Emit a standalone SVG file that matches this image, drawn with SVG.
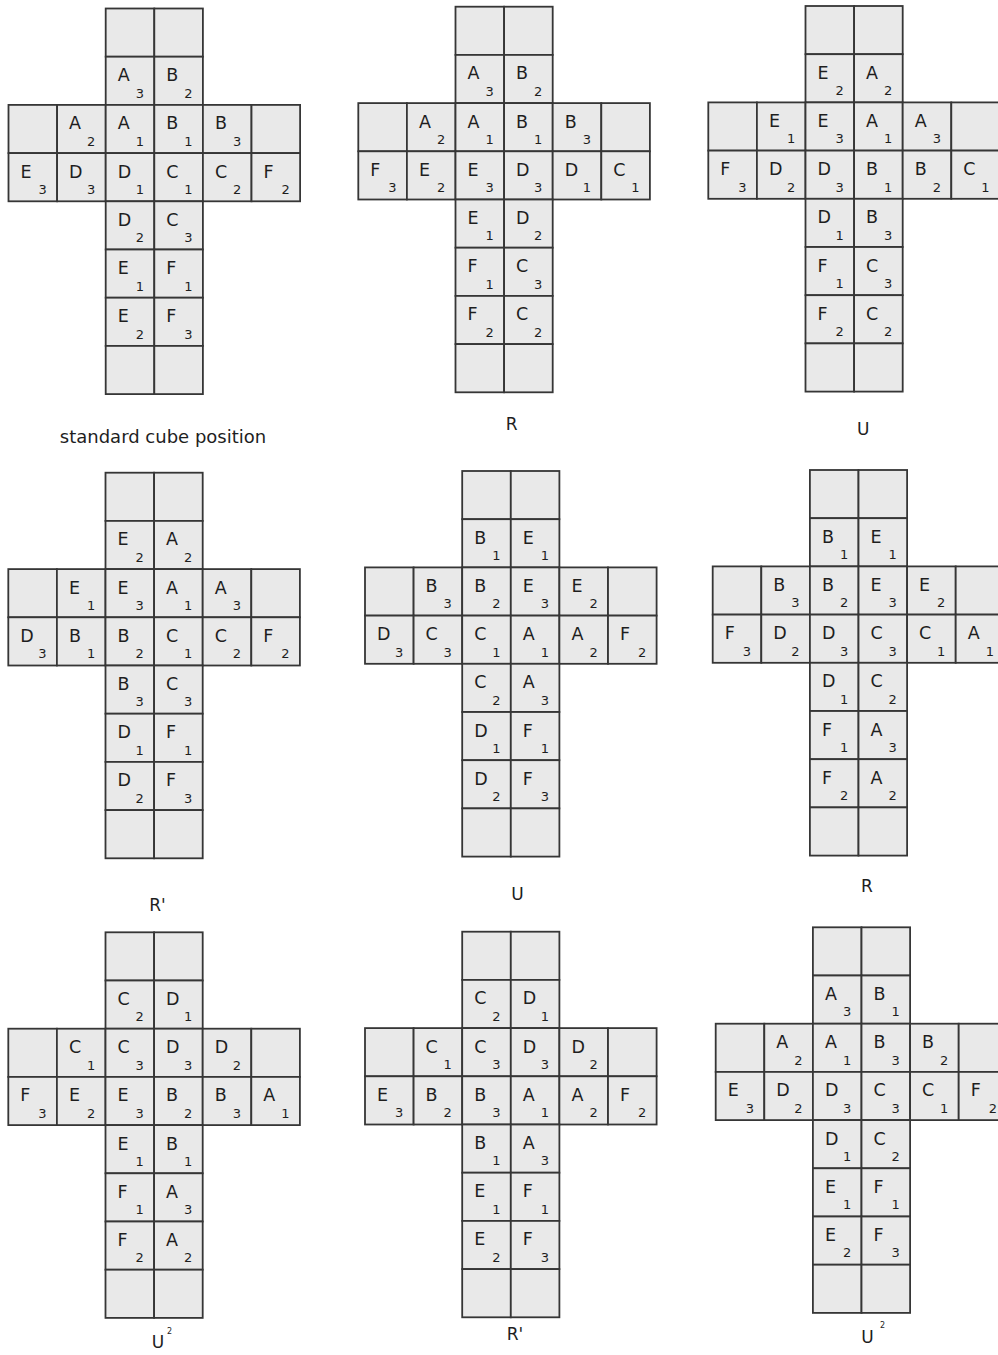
<svg xmlns="http://www.w3.org/2000/svg" xmlns:xlink="http://www.w3.org/1999/xlink" width="998" height="1355" viewBox="0 0 998 1355">
<style>
.c{fill:#e9e9e9;stroke:#363636;stroke-width:1.8}
text{font-family:"DejaVu Sans","Liberation Sans",sans-serif;fill:#1e1e1e}
.n text{font-size:17.5px}
.n .s{font-size:13px}
.cap{font-size:17px;text-anchor:middle}
.sup{font-size:8px}
</style>
<defs>
<g id="grid">
<rect class="c" x="97.2" y="0" width="48.6" height="48.2"/><rect class="c" x="145.8" y="0" width="48.6" height="48.2"/>
<rect class="c" x="97.2" y="48.2" width="48.6" height="48.2"/><rect class="c" x="145.8" y="48.2" width="48.6" height="48.2"/>
<rect class="c" x="0" y="96.4" width="48.6" height="48.2"/><rect class="c" x="48.6" y="96.4" width="48.6" height="48.2"/><rect class="c" x="97.2" y="96.4" width="48.6" height="48.2"/><rect class="c" x="145.8" y="96.4" width="48.6" height="48.2"/><rect class="c" x="194.4" y="96.4" width="48.6" height="48.2"/><rect class="c" x="243" y="96.4" width="48.6" height="48.2"/>
<rect class="c" x="0" y="144.6" width="48.6" height="48.2"/><rect class="c" x="48.6" y="144.6" width="48.6" height="48.2"/><rect class="c" x="97.2" y="144.6" width="48.6" height="48.2"/><rect class="c" x="145.8" y="144.6" width="48.6" height="48.2"/><rect class="c" x="194.4" y="144.6" width="48.6" height="48.2"/><rect class="c" x="243" y="144.6" width="48.6" height="48.2"/>
<rect class="c" x="97.2" y="192.8" width="48.6" height="48.2"/><rect class="c" x="145.8" y="192.8" width="48.6" height="48.2"/>
<rect class="c" x="97.2" y="241" width="48.6" height="48.2"/><rect class="c" x="145.8" y="241" width="48.6" height="48.2"/>
<rect class="c" x="97.2" y="289.2" width="48.6" height="48.2"/><rect class="c" x="145.8" y="289.2" width="48.6" height="48.2"/>
<rect class="c" x="97.2" y="337.4" width="48.6" height="48.2"/><rect class="c" x="145.8" y="337.4" width="48.6" height="48.2"/>
</g>
</defs>

<g id="net1" class="n" transform="translate(8.5,8.5)">
<use href="#grid"/>
<text x="109.2" y="72.7">A<tspan class="s" x="127.2" dy="16.5">3</tspan></text>
<text x="157.8" y="72.7">B<tspan class="s" x="175.8" dy="16.5">2</tspan></text>
<text x="60.6" y="120.9">A<tspan class="s" x="78.6" dy="16.5">2</tspan></text>
<text x="109.2" y="120.9">A<tspan class="s" x="127.2" dy="16.5">1</tspan></text>
<text x="157.8" y="120.9">B<tspan class="s" x="175.8" dy="16.5">1</tspan></text>
<text x="206.4" y="120.9">B<tspan class="s" x="224.4" dy="16.5">3</tspan></text>
<text x="12" y="169.1">E<tspan class="s" x="30" dy="16.5">3</tspan></text>
<text x="60.6" y="169.1">D<tspan class="s" x="78.6" dy="16.5">3</tspan></text>
<text x="109.2" y="169.1">D<tspan class="s" x="127.2" dy="16.5">1</tspan></text>
<text x="157.8" y="169.1">C<tspan class="s" x="175.8" dy="16.5">1</tspan></text>
<text x="206.4" y="169.1">C<tspan class="s" x="224.4" dy="16.5">2</tspan></text>
<text x="255" y="169.1">F<tspan class="s" x="273" dy="16.5">2</tspan></text>
<text x="109.2" y="217.3">D<tspan class="s" x="127.2" dy="16.5">2</tspan></text>
<text x="157.8" y="217.3">C<tspan class="s" x="175.8" dy="16.5">3</tspan></text>
<text x="109.2" y="265.5">E<tspan class="s" x="127.2" dy="16.5">1</tspan></text>
<text x="157.8" y="265.5">F<tspan class="s" x="175.8" dy="16.5">1</tspan></text>
<text x="109.2" y="313.7">E<tspan class="s" x="127.2" dy="16.5">2</tspan></text>
<text x="157.8" y="313.7">F<tspan class="s" x="175.8" dy="16.5">3</tspan></text>
</g>

<g id="net2" class="n" transform="translate(358.3,6.7)">
<use href="#grid"/>
<text x="109.2" y="72.7">A<tspan class="s" x="127.2" dy="16.5">3</tspan></text>
<text x="157.8" y="72.7">B<tspan class="s" x="175.8" dy="16.5">2</tspan></text>
<text x="60.6" y="120.9">A<tspan class="s" x="78.6" dy="16.5">2</tspan></text>
<text x="109.2" y="120.9">A<tspan class="s" x="127.2" dy="16.5">1</tspan></text>
<text x="157.8" y="120.9">B<tspan class="s" x="175.8" dy="16.5">1</tspan></text>
<text x="206.4" y="120.9">B<tspan class="s" x="224.4" dy="16.5">3</tspan></text>
<text x="12" y="169.1">F<tspan class="s" x="30" dy="16.5">3</tspan></text>
<text x="60.6" y="169.1">E<tspan class="s" x="78.6" dy="16.5">2</tspan></text>
<text x="109.2" y="169.1">E<tspan class="s" x="127.2" dy="16.5">3</tspan></text>
<text x="157.8" y="169.1">D<tspan class="s" x="175.8" dy="16.5">3</tspan></text>
<text x="206.4" y="169.1">D<tspan class="s" x="224.4" dy="16.5">1</tspan></text>
<text x="255" y="169.1">C<tspan class="s" x="273" dy="16.5">1</tspan></text>
<text x="109.2" y="217.3">E<tspan class="s" x="127.2" dy="16.5">1</tspan></text>
<text x="157.8" y="217.3">D<tspan class="s" x="175.8" dy="16.5">2</tspan></text>
<text x="109.2" y="265.5">F<tspan class="s" x="127.2" dy="16.5">1</tspan></text>
<text x="157.8" y="265.5">C<tspan class="s" x="175.8" dy="16.5">3</tspan></text>
<text x="109.2" y="313.7">F<tspan class="s" x="127.2" dy="16.5">2</tspan></text>
<text x="157.8" y="313.7">C<tspan class="s" x="175.8" dy="16.5">2</tspan></text>
</g>

<g id="net3" class="n" transform="translate(708.3,6)">
<use href="#grid"/>
<text x="109.2" y="72.7">E<tspan class="s" x="127.2" dy="16.5">2</tspan></text>
<text x="157.8" y="72.7">A<tspan class="s" x="175.8" dy="16.5">2</tspan></text>
<text x="60.6" y="120.9">E<tspan class="s" x="78.6" dy="16.5">1</tspan></text>
<text x="109.2" y="120.9">E<tspan class="s" x="127.2" dy="16.5">3</tspan></text>
<text x="157.8" y="120.9">A<tspan class="s" x="175.8" dy="16.5">1</tspan></text>
<text x="206.4" y="120.9">A<tspan class="s" x="224.4" dy="16.5">3</tspan></text>
<text x="12" y="169.1">F<tspan class="s" x="30" dy="16.5">3</tspan></text>
<text x="60.6" y="169.1">D<tspan class="s" x="78.6" dy="16.5">2</tspan></text>
<text x="109.2" y="169.1">D<tspan class="s" x="127.2" dy="16.5">3</tspan></text>
<text x="157.8" y="169.1">B<tspan class="s" x="175.8" dy="16.5">1</tspan></text>
<text x="206.4" y="169.1">B<tspan class="s" x="224.4" dy="16.5">2</tspan></text>
<text x="255" y="169.1">C<tspan class="s" x="273" dy="16.5">1</tspan></text>
<text x="109.2" y="217.3">D<tspan class="s" x="127.2" dy="16.5">1</tspan></text>
<text x="157.8" y="217.3">B<tspan class="s" x="175.8" dy="16.5">3</tspan></text>
<text x="109.2" y="265.5">F<tspan class="s" x="127.2" dy="16.5">1</tspan></text>
<text x="157.8" y="265.5">C<tspan class="s" x="175.8" dy="16.5">3</tspan></text>
<text x="109.2" y="313.7">F<tspan class="s" x="127.2" dy="16.5">2</tspan></text>
<text x="157.8" y="313.7">C<tspan class="s" x="175.8" dy="16.5">2</tspan></text>
</g>

<g id="net4" class="n" transform="translate(8.3,472.7)">
<use href="#grid"/>
<text x="109.2" y="72.7">E<tspan class="s" x="127.2" dy="16.5">2</tspan></text>
<text x="157.8" y="72.7">A<tspan class="s" x="175.8" dy="16.5">2</tspan></text>
<text x="60.6" y="120.9">E<tspan class="s" x="78.6" dy="16.5">1</tspan></text>
<text x="109.2" y="120.9">E<tspan class="s" x="127.2" dy="16.5">3</tspan></text>
<text x="157.8" y="120.9">A<tspan class="s" x="175.8" dy="16.5">1</tspan></text>
<text x="206.4" y="120.9">A<tspan class="s" x="224.4" dy="16.5">3</tspan></text>
<text x="12" y="169.1">D<tspan class="s" x="30" dy="16.5">3</tspan></text>
<text x="60.6" y="169.1">B<tspan class="s" x="78.6" dy="16.5">1</tspan></text>
<text x="109.2" y="169.1">B<tspan class="s" x="127.2" dy="16.5">2</tspan></text>
<text x="157.8" y="169.1">C<tspan class="s" x="175.8" dy="16.5">1</tspan></text>
<text x="206.4" y="169.1">C<tspan class="s" x="224.4" dy="16.5">2</tspan></text>
<text x="255" y="169.1">F<tspan class="s" x="273" dy="16.5">2</tspan></text>
<text x="109.2" y="217.3">B<tspan class="s" x="127.2" dy="16.5">3</tspan></text>
<text x="157.8" y="217.3">C<tspan class="s" x="175.8" dy="16.5">3</tspan></text>
<text x="109.2" y="265.5">D<tspan class="s" x="127.2" dy="16.5">1</tspan></text>
<text x="157.8" y="265.5">F<tspan class="s" x="175.8" dy="16.5">1</tspan></text>
<text x="109.2" y="313.7">D<tspan class="s" x="127.2" dy="16.5">2</tspan></text>
<text x="157.8" y="313.7">F<tspan class="s" x="175.8" dy="16.5">3</tspan></text>
</g>

<g id="net5" class="n" transform="translate(365,471)">
<use href="#grid"/>
<text x="109.2" y="72.7">B<tspan class="s" x="127.2" dy="16.5">1</tspan></text>
<text x="157.8" y="72.7">E<tspan class="s" x="175.8" dy="16.5">1</tspan></text>
<text x="60.6" y="120.9">B<tspan class="s" x="78.6" dy="16.5">3</tspan></text>
<text x="109.2" y="120.9">B<tspan class="s" x="127.2" dy="16.5">2</tspan></text>
<text x="157.8" y="120.9">E<tspan class="s" x="175.8" dy="16.5">3</tspan></text>
<text x="206.4" y="120.9">E<tspan class="s" x="224.4" dy="16.5">2</tspan></text>
<text x="12" y="169.1">D<tspan class="s" x="30" dy="16.5">3</tspan></text>
<text x="60.6" y="169.1">C<tspan class="s" x="78.6" dy="16.5">3</tspan></text>
<text x="109.2" y="169.1">C<tspan class="s" x="127.2" dy="16.5">1</tspan></text>
<text x="157.8" y="169.1">A<tspan class="s" x="175.8" dy="16.5">1</tspan></text>
<text x="206.4" y="169.1">A<tspan class="s" x="224.4" dy="16.5">2</tspan></text>
<text x="255" y="169.1">F<tspan class="s" x="273" dy="16.5">2</tspan></text>
<text x="109.2" y="217.3">C<tspan class="s" x="127.2" dy="16.5">2</tspan></text>
<text x="157.8" y="217.3">A<tspan class="s" x="175.8" dy="16.5">3</tspan></text>
<text x="109.2" y="265.5">D<tspan class="s" x="127.2" dy="16.5">1</tspan></text>
<text x="157.8" y="265.5">F<tspan class="s" x="175.8" dy="16.5">1</tspan></text>
<text x="109.2" y="313.7">D<tspan class="s" x="127.2" dy="16.5">2</tspan></text>
<text x="157.8" y="313.7">F<tspan class="s" x="175.8" dy="16.5">3</tspan></text>
</g>

<g id="net6" class="n" transform="translate(712.7,470)">
<use href="#grid"/>
<text x="109.2" y="72.7">B<tspan class="s" x="127.2" dy="16.5">1</tspan></text>
<text x="157.8" y="72.7">E<tspan class="s" x="175.8" dy="16.5">1</tspan></text>
<text x="60.6" y="120.9">B<tspan class="s" x="78.6" dy="16.5">3</tspan></text>
<text x="109.2" y="120.9">B<tspan class="s" x="127.2" dy="16.5">2</tspan></text>
<text x="157.8" y="120.9">E<tspan class="s" x="175.8" dy="16.5">3</tspan></text>
<text x="206.4" y="120.9">E<tspan class="s" x="224.4" dy="16.5">2</tspan></text>
<text x="12" y="169.1">F<tspan class="s" x="30" dy="16.5">3</tspan></text>
<text x="60.6" y="169.1">D<tspan class="s" x="78.6" dy="16.5">2</tspan></text>
<text x="109.2" y="169.1">D<tspan class="s" x="127.2" dy="16.5">3</tspan></text>
<text x="157.8" y="169.1">C<tspan class="s" x="175.8" dy="16.5">3</tspan></text>
<text x="206.4" y="169.1">C<tspan class="s" x="224.4" dy="16.5">1</tspan></text>
<text x="255" y="169.1">A<tspan class="s" x="273" dy="16.5">1</tspan></text>
<text x="109.2" y="217.3">D<tspan class="s" x="127.2" dy="16.5">1</tspan></text>
<text x="157.8" y="217.3">C<tspan class="s" x="175.8" dy="16.5">2</tspan></text>
<text x="109.2" y="265.5">F<tspan class="s" x="127.2" dy="16.5">1</tspan></text>
<text x="157.8" y="265.5">A<tspan class="s" x="175.8" dy="16.5">3</tspan></text>
<text x="109.2" y="313.7">F<tspan class="s" x="127.2" dy="16.5">2</tspan></text>
<text x="157.8" y="313.7">A<tspan class="s" x="175.8" dy="16.5">2</tspan></text>
</g>

<g id="net7" class="n" transform="translate(8.3,932.3)">
<use href="#grid"/>
<text x="109.2" y="72.7">C<tspan class="s" x="127.2" dy="16.5">2</tspan></text>
<text x="157.8" y="72.7">D<tspan class="s" x="175.8" dy="16.5">1</tspan></text>
<text x="60.6" y="120.9">C<tspan class="s" x="78.6" dy="16.5">1</tspan></text>
<text x="109.2" y="120.9">C<tspan class="s" x="127.2" dy="16.5">3</tspan></text>
<text x="157.8" y="120.9">D<tspan class="s" x="175.8" dy="16.5">3</tspan></text>
<text x="206.4" y="120.9">D<tspan class="s" x="224.4" dy="16.5">2</tspan></text>
<text x="12" y="169.1">F<tspan class="s" x="30" dy="16.5">3</tspan></text>
<text x="60.6" y="169.1">E<tspan class="s" x="78.6" dy="16.5">2</tspan></text>
<text x="109.2" y="169.1">E<tspan class="s" x="127.2" dy="16.5">3</tspan></text>
<text x="157.8" y="169.1">B<tspan class="s" x="175.8" dy="16.5">2</tspan></text>
<text x="206.4" y="169.1">B<tspan class="s" x="224.4" dy="16.5">3</tspan></text>
<text x="255" y="169.1">A<tspan class="s" x="273" dy="16.5">1</tspan></text>
<text x="109.2" y="217.3">E<tspan class="s" x="127.2" dy="16.5">1</tspan></text>
<text x="157.8" y="217.3">B<tspan class="s" x="175.8" dy="16.5">1</tspan></text>
<text x="109.2" y="265.5">F<tspan class="s" x="127.2" dy="16.5">1</tspan></text>
<text x="157.8" y="265.5">A<tspan class="s" x="175.8" dy="16.5">3</tspan></text>
<text x="109.2" y="313.7">F<tspan class="s" x="127.2" dy="16.5">2</tspan></text>
<text x="157.8" y="313.7">A<tspan class="s" x="175.8" dy="16.5">2</tspan></text>
</g>

<g id="net8" class="n" transform="translate(365,931.7)">
<use href="#grid"/>
<text x="109.2" y="72.7">C<tspan class="s" x="127.2" dy="16.5">2</tspan></text>
<text x="157.8" y="72.7">D<tspan class="s" x="175.8" dy="16.5">1</tspan></text>
<text x="60.6" y="120.9">C<tspan class="s" x="78.6" dy="16.5">1</tspan></text>
<text x="109.2" y="120.9">C<tspan class="s" x="127.2" dy="16.5">3</tspan></text>
<text x="157.8" y="120.9">D<tspan class="s" x="175.8" dy="16.5">3</tspan></text>
<text x="206.4" y="120.9">D<tspan class="s" x="224.4" dy="16.5">2</tspan></text>
<text x="12" y="169.1">E<tspan class="s" x="30" dy="16.5">3</tspan></text>
<text x="60.6" y="169.1">B<tspan class="s" x="78.6" dy="16.5">2</tspan></text>
<text x="109.2" y="169.1">B<tspan class="s" x="127.2" dy="16.5">3</tspan></text>
<text x="157.8" y="169.1">A<tspan class="s" x="175.8" dy="16.5">1</tspan></text>
<text x="206.4" y="169.1">A<tspan class="s" x="224.4" dy="16.5">2</tspan></text>
<text x="255" y="169.1">F<tspan class="s" x="273" dy="16.5">2</tspan></text>
<text x="109.2" y="217.3">B<tspan class="s" x="127.2" dy="16.5">1</tspan></text>
<text x="157.8" y="217.3">A<tspan class="s" x="175.8" dy="16.5">3</tspan></text>
<text x="109.2" y="265.5">E<tspan class="s" x="127.2" dy="16.5">1</tspan></text>
<text x="157.8" y="265.5">F<tspan class="s" x="175.8" dy="16.5">1</tspan></text>
<text x="109.2" y="313.7">E<tspan class="s" x="127.2" dy="16.5">2</tspan></text>
<text x="157.8" y="313.7">F<tspan class="s" x="175.8" dy="16.5">3</tspan></text>
</g>

<g id="net9" class="n" transform="translate(715.7,927.3)">
<use href="#grid"/>
<text x="109.2" y="72.7">A<tspan class="s" x="127.2" dy="16.5">3</tspan></text>
<text x="157.8" y="72.7">B<tspan class="s" x="175.8" dy="16.5">1</tspan></text>
<text x="60.6" y="120.9">A<tspan class="s" x="78.6" dy="16.5">2</tspan></text>
<text x="109.2" y="120.9">A<tspan class="s" x="127.2" dy="16.5">1</tspan></text>
<text x="157.8" y="120.9">B<tspan class="s" x="175.8" dy="16.5">3</tspan></text>
<text x="206.4" y="120.9">B<tspan class="s" x="224.4" dy="16.5">2</tspan></text>
<text x="12" y="169.1">E<tspan class="s" x="30" dy="16.5">3</tspan></text>
<text x="60.6" y="169.1">D<tspan class="s" x="78.6" dy="16.5">2</tspan></text>
<text x="109.2" y="169.1">D<tspan class="s" x="127.2" dy="16.5">3</tspan></text>
<text x="157.8" y="169.1">C<tspan class="s" x="175.8" dy="16.5">3</tspan></text>
<text x="206.4" y="169.1">C<tspan class="s" x="224.4" dy="16.5">1</tspan></text>
<text x="255" y="169.1">F<tspan class="s" x="273" dy="16.5">2</tspan></text>
<text x="109.2" y="217.3">D<tspan class="s" x="127.2" dy="16.5">1</tspan></text>
<text x="157.8" y="217.3">C<tspan class="s" x="175.8" dy="16.5">2</tspan></text>
<text x="109.2" y="265.5">E<tspan class="s" x="127.2" dy="16.5">1</tspan></text>
<text x="157.8" y="265.5">F<tspan class="s" x="175.8" dy="16.5">1</tspan></text>
<text x="109.2" y="313.7">E<tspan class="s" x="127.2" dy="16.5">2</tspan></text>
<text x="157.8" y="313.7">F<tspan class="s" x="175.8" dy="16.5">3</tspan></text>
</g>

<g id="captions">
<text class="cap" x="163" y="443" style="font-size:18px">standard cube position</text>
<text class="cap" x="511.7" y="430">R</text>
<text class="cap" x="863.3" y="435">U</text>
<text class="cap" x="157.5" y="911">R'</text>
<text class="cap" x="517.5" y="900">U</text>
<text class="cap" x="866.8" y="892">R</text>
<text class="cap" x="158" y="1348">U</text>
<text class="sup" x="167" y="1334">2</text>
<text class="cap" x="515" y="1340">R'</text>
<text class="cap" x="867.5" y="1343">U</text>
<text class="sup" x="880" y="1328">2</text>
</g>
</svg>
